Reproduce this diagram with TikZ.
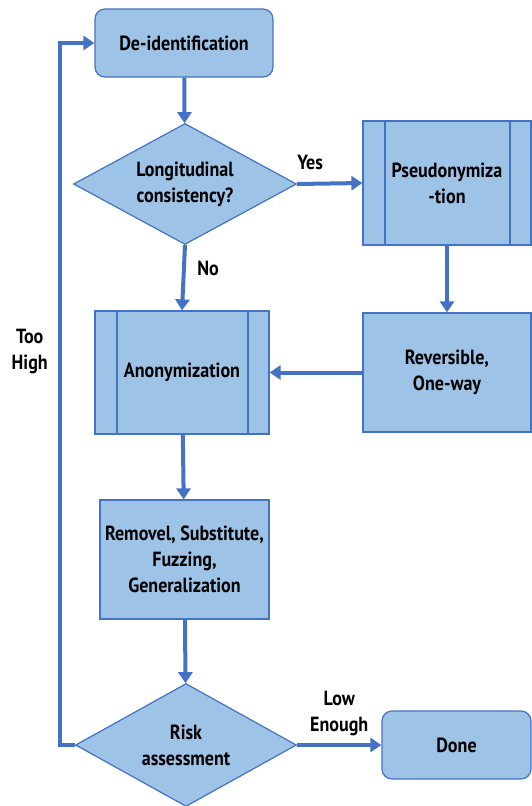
\documentclass[tikz,border=0pt]{standalone}
\usepackage{fontspec}
\setmainfont{PT Sans}[FakeStretch=0.88]
\usetikzlibrary{shapes.geometric,arrows.meta,calc}
\definecolor{boxfill}{HTML}{9DC3E6}
\definecolor{boxline}{HTML}{4472C4}
\definecolor{flow}{HTML}{4472C4}
\begin{document}
\begin{tikzpicture}[x=1pt,y=-1pt,
	font=\bfseries\fontsize{20.5}{26}\selectfont,
	box/.style={draw=boxline,fill=boxfill,line width=1.2pt,align=center,inner sep=0pt,text=black},
	rbox/.style={box,rounded corners=10pt},
	dia/.style={box,diamond,aspect=1.8},
	pbox/.style={box,path picture={
		\draw[boxline,line width=1.2pt] ($(path picture bounding box.north west)+(22,0)$) -- ($(path picture bounding box.south west)+(22,0)$);
		\draw[boxline,line width=1.2pt] ($(path picture bounding box.north east)+(-21,0)$) -- ($(path picture bounding box.south east)+(-21,0)$);}},
	lbl/.style={text=black,align=center},
	arr/.style={flow,line width=4pt,-{Triangle[length=11pt,width=14pt]}},
	back/.style={flow,line width=3.5pt,-{Triangle[length=11pt,width=14pt]}}]
	\useasboundingbox (0,0) rectangle (531,806);
	% boxes
	\node[rbox,minimum width=178,minimum height=68] (deid) at (184,43) {De-identification};
	\node[dia,minimum width=223,minimum height=121] (longi) at (185,184) {Longitudinal\\consistency?};
	\node[pbox,minimum width=168,minimum height=124] (pseudo) at (447,183) {Pseudonymiza\\-tion};
	\node[pbox,minimum width=174,minimum height=123] (anon) at (182,372.5) {Anonymization};
	\node[box,minimum width=168,minimum height=119] (rever) at (447,372.5) {Reversible,\\One-way};
	\node[box,minimum width=169,minimum height=119] (remov) at (184.5,559.5) {Removel, Substitute,\\Fuzzing,\\Generalization};
	\node[dia,minimum width=221,minimum height=123] (risk) at (186,745) {Risk\\assessment};
	\node[rbox,minimum width=149,minimum height=68] (done) at (456.5,745) {Done};
	% connectors
	\draw[arr] (deid) -- (longi);
	\draw[arr] (longi.east) -- (pseudo.west) node[lbl,pos=0.2,above=9pt] {Yes};
	\draw[arr] (longi.south) -- (anon.north) node[lbl,pos=0.35,right=8pt] {No};
	\draw[arr] (pseudo) -- (rever);
	\draw[arr] (rever) -- (anon);
	\draw[arr] (anon) -- (remov);
	\draw[arr] (remov) -- (risk);
	\draw[arr] (risk.east) -- (done.west) node[lbl,midway,above=4pt] {Low\\Enough};
	\draw[back] (risk.west) -- ++(-15,0) |- (deid.west) node[lbl,pos=0.28,left=7pt] {Too\\High};
\end{tikzpicture}
\end{document}
